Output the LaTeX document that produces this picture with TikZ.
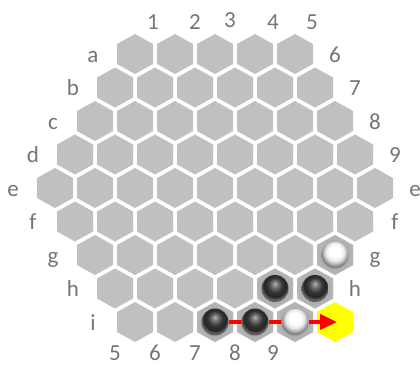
\documentclass[tikz,border=0pt]{standalone}
\usepackage{fontspec}
\setmainfont{Carlito}
\usetikzlibrary{arrows.meta}
\definecolor{hexgray}{RGB}{192,192,192}
\definecolor{shadowgray}{RGB}{150,150,150}
\definecolor{lblgray}{RGB}{118,118,118}
\definecolor{goalyellow}{RGB}{255,255,0}
\pgfdeclareradialshading{blackballshade}{\pgfpoint{0bp}{9bp}}{color(0bp)=(black!30); color(6bp)=(black!55); color(14bp)=(black!80); color(21bp)=(black!85); color(25bp)=(black!62); color(50bp)=(black!62)}
\pgfdeclareradialshading{whiteballshade}{\pgfpoint{0bp}{9bp}}{color(0bp)=(white); color(10bp)=(white); color(17bp)=(black!8); color(23bp)=(black!35); color(25bp)=(black!48); color(50bp)=(black!48)}
\begin{document}
\begin{tikzpicture}[x=1pt,y=-1pt,
  hexcell/.style={fill=hexgray},
  lbl/.style={text=lblgray,font=\fontsize{23}{23}\selectfont,anchor=base,inner sep=0pt},
  ballbase/.style={circle,minimum size=27pt,inner sep=0pt},
  blackball/.style={ballbase,shading=blackballshade},
  whiteball/.style={ballbase,shading=whiteballshade},
  redline/.style={draw=red,line width=3.6pt},
  redarrow/.style={redline,-{Triangle[length=17pt,width=15pt]}}]
\useasboundingbox (0,0) rectangle (420,365);
\fill[white] (0,0) rectangle (420,365);
% board cells
\foreach \r/\lt/\rt in {0/a/6,1/b/7,2/c/8,3/d/9,4/e/e,5/f/f,6/g/g,7/h/h,8/i/} {
  \pgfmathtruncatemacro\nc{9-abs(\r-4)}
  \pgfmathsetmacro\xs{215-20*(\nc-1)}
  \pgfmathsetmacro\xe{215+20*(\nc-1)}
  \pgfmathsetmacro\yy{54+33.5*\r}
  \foreach \k in {1,...,\nc} {
    \pgfmathsetmacro\xx{\xs+40*(\k-1)}
    \coordinate (c\r-\k) at (\xx,\yy);
    \fill[hexcell,shift={(\xx,\yy)}] (0,-20) -- (18,-10) -- (18,10) -- (0,20) -- (-18,10) -- (-18,-10) -- cycle;
  }
  \node[lbl] (L\r) at (\xs-42,\yy+8) {\lt};
  \node[lbl] (R\r) at (\xe+40,\yy+8) {\rt};
}
% shadows under balls
\foreach \c in {c6-7,c7-5,c7-6,c8-3,c8-4,c8-5} {
  \begin{scope}
    \clip[shift={(\c)}] (0,-20) -- (18,-10) -- (18,10) -- (0,20) -- (-18,10) -- (-18,-10) -- cycle;
    \shade[inner color=shadowgray,outer color=hexgray] (\c) circle (24);
  \end{scope}
}
% goal cell
\coordinate (goal) at (335,322);
\fill[goalyellow,shift={(goal)}] (0,-20) -- (18,-10) -- (18,10) -- (0,20) -- (-18,10) -- (-18,-10) -- cycle;
% top and bottom labels
\node[lbl] (T1) at (153,29) {1};
\node[lbl] (T2) at (195,29) {2};
\node[lbl] (T3) at (230,27) {3};
\node[lbl] (T4) at (273,29) {4};
\node[lbl] (T5) at (312,29) {5};
\node[lbl] (B5) at (115,360) {5};
\node[lbl] (B6) at (155,360) {6};
\node[lbl] (B7) at (195,360) {7};
\node[lbl] (B8) at (235,360) {8};
\node[lbl] (B9) at (273,360) {9};
% balls
\node[whiteball] (wg) at (c6-7) {};
\node[blackball] (bh1) at (c7-5) {};
\node[blackball] (bh2) at (c7-6) {};
\node[blackball] (bi1) at (c8-3) {};
\node[blackball] (bi2) at (c8-4) {};
\node[whiteball] (wi) at (c8-5) {};
% move arrow
\draw[redline] (bi1) -- (bi2);
\draw[redline] (bi2) -- (wi);
\draw[redarrow] (wi) -- ([xshift=2pt]goal);
\end{tikzpicture}
\end{document}
